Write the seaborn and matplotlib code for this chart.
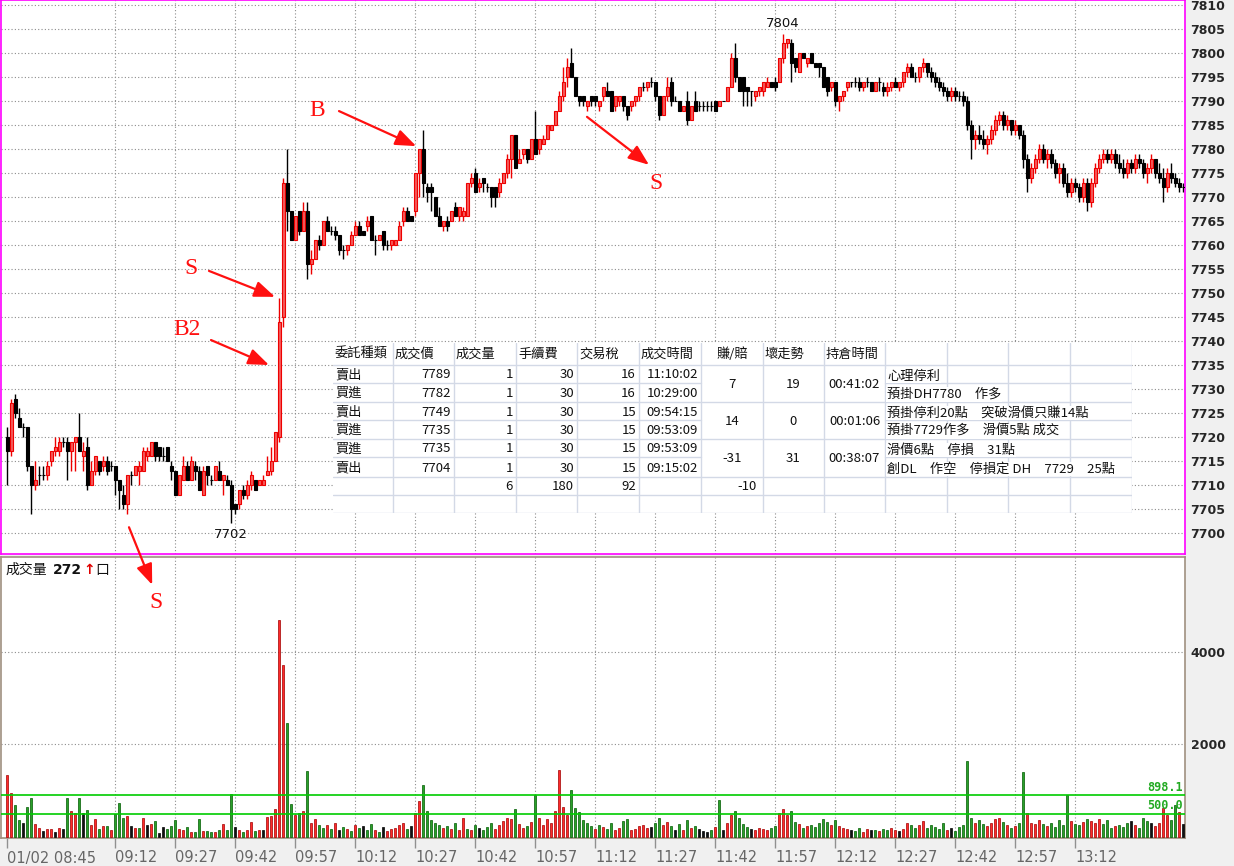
import numpy as np
import pandas as pd
import seaborn as sns
import matplotlib.pyplot as plt
from matplotlib.colors import to_hex

# 1-minute bars from 01/02 08:45
opens = [7720, 7717, 7728, 7724, 7722, 7722, 7714, 7710, 7712, 7712, 7712, 7715, 7717, 7717, 7719, 7719, 7717, 7719, 7720, 7716,
         7718, 7710, 7713, 7715, 7714, 7715, 7714, 7714, 7711, 7708, 7706, 7712, 7712, 7713, 7713, 7716, 7716, 7719, 7718, 7716,
         7718, 7714, 7713, 7708, 7711, 7714, 7711, 7714, 7713, 7708, 7714, 7711, 7711, 7713, 7711, 7711, 7710, 7706, 7706, 7709,
         7708, 7710, 7711, 7710, 7710, 7712, 7713, 7715, 7720, 7745, 7773, 7767, 7761, 7767, 7763, 7767, 7756, 7757, 7761, 7760,
         7765, 7763, 7763, 7762, 7759, 7759, 7760, 7762, 7764, 7763, 7764, 7766, 7761, 7761, 7763, 7760, 7760, 7760, 7761, 7765,
         7767, 7766, 7767, 7775, 7780, 7772, 7772, 7770, 7766, 7764, 7765, 7765, 7768, 7766, 7766, 7766, 7773, 7775, 7772, 7774,
         7772, 7772, 7772, 7771, 7773, 7775, 7778, 7783, 7777, 7779, 7780, 7778, 7782, 7780, 7781, 7782, 7784, 7785, 7788, 7791,
         7795, 7798, 7795, 7791, 7791, 7789, 7791, 7791, 7789, 7791, 7792, 7792, 7789, 7790, 7791, 7789, 7789, 7790, 7791, 7793,
         7793, 7794, 7794, 7791, 7787, 7791, 7794, 7790, 7790, 7788, 7790, 7786, 7790, 7789, 7789, 7789, 7789, 7790, 7789, 7790,
         7790, 7793, 7799, 7795, 7795, 7793, 7792, 7791, 7792, 7792, 7793, 7794, 7794, 7794, 7799, 7802, 7802, 7799, 7796, 7800,
         7798, 7800, 7798, 7798, 7797, 7795, 7793, 7794, 7790, 7791, 7793, 7794, 7794, 7794, 7793, 7794, 7794, 7792, 7794, 7793,
         7792, 7793, 7794, 7793, 7794, 7796, 7797, 7795, 7795, 7797, 7798, 7796, 7795, 7794, 7793, 7792, 7791, 7792, 7791, 7791,
         7790, 7785, 7782, 7783, 7782, 7781, 7782, 7784, 7786, 7787, 7785, 7786, 7784, 7785, 7783, 7778, 7774, 7776, 7778, 7780,
         7778, 7779, 7777, 7775, 7776, 7773, 7771, 7773, 7772, 7770, 7773, 7769, 7773, 7776, 7778, 7779, 7778, 7779, 7777, 7776,
         7775, 7777, 7776, 7778, 7777, 7775, 7776, 7778, 7775, 7774, 7772, 7775, 7774, 7773, 7772]
highs = [7722, 7728, 7729, 7726, 7723, 7722, 7714, 7715, 7714, 7714, 7715, 7717, 7720, 7720, 7720, 7720, 7719, 7720, 7725, 7719,
         7720, 7715, 7716, 7715, 7716, 7716, 7715, 7714, 7711, 7710, 7712, 7713, 7714, 7715, 7718, 7718, 7719, 7719, 7718, 7718,
         7718, 7715, 7713, 7712, 7716, 7715, 7716, 7715, 7714, 7714, 7714, 7712, 7714, 7715, 7712, 7712, 7711, 7706, 7709, 7710,
         7711, 7713, 7711, 7711, 7712, 7716, 7718, 7721, 7749, 7774, 7780, 7767, 7766, 7767, 7769, 7769, 7759, 7761, 7762, 7765,
         7766, 7764, 7764, 7762, 7760, 7760, 7763, 7765, 7765, 7763, 7766, 7766, 7762, 7762, 7763, 7761, 7761, 7761, 7765, 7768,
         7768, 7766, 7775, 7780, 7784, 7773, 7773, 7770, 7768, 7765, 7766, 7767, 7769, 7768, 7768, 7773, 7775, 7776, 7774, 7774,
         7773, 7772, 7772, 7774, 7775, 7779, 7783, 7783, 7780, 7780, 7780, 7782, 7788, 7782, 7783, 7785, 7785, 7788, 7792, 7797,
         7799, 7801, 7795, 7791, 7791, 7790, 7791, 7791, 7790, 7793, 7794, 7792, 7791, 7791, 7791, 7789, 7790, 7791, 7793, 7794,
         7794, 7795, 7794, 7791, 7791, 7795, 7795, 7791, 7790, 7789, 7792, 7789, 7792, 7790, 7790, 7790, 7790, 7790, 7790, 7790,
         7793, 7800, 7802, 7795, 7795, 7793, 7792, 7792, 7793, 7794, 7795, 7794, 7795, 7799, 7804, 7803, 7803, 7799, 7800, 7800,
         7799, 7800, 7798, 7798, 7797, 7795, 7794, 7794, 7791, 7792, 7794, 7794, 7795, 7795, 7794, 7795, 7794, 7794, 7795, 7794,
         7794, 7794, 7795, 7794, 7796, 7798, 7798, 7796, 7797, 7799, 7798, 7797, 7796, 7795, 7794, 7793, 7793, 7793, 7792, 7792,
         7791, 7786, 7784, 7785, 7784, 7783, 7785, 7787, 7788, 7788, 7787, 7786, 7786, 7785, 7784, 7779, 7777, 7779, 7781, 7781,
         7780, 7780, 7778, 7777, 7777, 7775, 7774, 7774, 7773, 7774, 7774, 7774, 7777, 7779, 7780, 7780, 7780, 7780, 7779, 7778,
         7778, 7778, 7779, 7779, 7778, 7777, 7779, 7778, 7777, 7776, 7776, 7777, 7775, 7774, 7773]
lows = [7710, 7716, 7724, 7722, 7720, 7713, 7704, 7709, 7710, 7711, 7711, 7714, 7716, 7716, 7718, 7711, 7713, 7713, 7717, 7713,
        7709, 7710, 7712, 7712, 7713, 7712, 7713, 7708, 7705, 7705, 7704, 7710, 7712, 7710, 7713, 7715, 7716, 7715, 7715, 7715,
        7715, 7711, 7708, 7708, 7711, 7711, 7711, 7711, 7709, 7708, 7710, 7710, 7711, 7711, 7708, 7710, 7702, 7704, 7705, 7707,
        7707, 7709, 7709, 7710, 7710, 7712, 7712, 7715, 7719, 7743, 7763, 7761, 7761, 7762, 7763, 7753, 7754, 7757, 7759, 7760,
        7763, 7762, 7761, 7758, 7757, 7758, 7760, 7762, 7762, 7762, 7763, 7761, 7758, 7761, 7759, 7759, 7759, 7760, 7761, 7764,
        7765, 7765, 7766, 7770, 7770, 7769, 7767, 7766, 7764, 7763, 7763, 7765, 7766, 7765, 7765, 7766, 7772, 7771, 7771, 7771,
        7771, 7768, 7768, 7770, 7773, 7774, 7774, 7776, 7777, 7778, 7777, 7778, 7779, 7779, 7781, 7782, 7784, 7785, 7788, 7790,
        7793, 7795, 7791, 7789, 7789, 7788, 7789, 7789, 7788, 7790, 7791, 7788, 7788, 7789, 7788, 7786, 7788, 7789, 7790, 7792,
        7792, 7793, 7790, 7786, 7787, 7790, 7789, 7790, 7788, 7788, 7785, 7786, 7788, 7788, 7788, 7788, 7788, 7788, 7789, 7790,
        7790, 7793, 7794, 7792, 7789, 7789, 7789, 7790, 7791, 7791, 7793, 7793, 7792, 7794, 7798, 7801, 7794, 7796, 7796, 7799,
        7797, 7798, 7797, 7795, 7793, 7791, 7792, 7789, 7788, 7790, 7792, 7793, 7793, 7792, 7792, 7793, 7792, 7792, 7792, 7791,
        7791, 7792, 7793, 7792, 7793, 7795, 7795, 7794, 7794, 7796, 7795, 7794, 7793, 7792, 7791, 7790, 7790, 7790, 7790, 7789,
        7784, 7778, 7780, 7781, 7780, 7779, 7781, 7783, 7785, 7784, 7784, 7783, 7783, 7782, 7776, 7771, 7773, 7775, 7777, 7777,
        7776, 7776, 7774, 7773, 7772, 7770, 7770, 7771, 7769, 7769, 7767, 7768, 7772, 7775, 7777, 7777, 7777, 7776, 7775, 7774,
        7774, 7775, 7775, 7776, 7774, 7773, 7775, 7774, 7773, 7769, 7771, 7773, 7772, 7771, 7771]
closes = [7717, 7727, 7725, 7722, 7722, 7714, 7710, 7711, 7712, 7712, 7714, 7717, 7718, 7719, 7719, 7717, 7719, 7720, 7717, 7717,
          7710, 7713, 7716, 7713, 7715, 7713, 7714, 7711, 7709, 7706, 7712, 7712, 7714, 7714, 7717, 7717, 7719, 7716, 7716, 7716,
          7715, 7713, 7708, 7712, 7714, 7711, 7715, 7713, 7709, 7713, 7712, 7711, 7714, 7711, 7712, 7710, 7705, 7705, 7709, 7708,
          7710, 7712, 7709, 7711, 7711, 7713, 7715, 7721, 7744, 7773, 7767, 7761, 7766, 7763, 7767, 7756, 7757, 7761, 7760, 7765,
          7763, 7763, 7762, 7759, 7759, 7760, 7762, 7764, 7762, 7762, 7765, 7761, 7761, 7762, 7760, 7760, 7761, 7761, 7764, 7767,
          7765, 7765, 7775, 7780, 7773, 7771, 7771, 7766, 7764, 7765, 7764, 7767, 7766, 7768, 7767, 7773, 7774, 7771, 7773, 7773,
          7772, 7770, 7770, 7773, 7775, 7778, 7783, 7776, 7778, 7780, 7778, 7782, 7779, 7782, 7782, 7785, 7785, 7788, 7791, 7794,
          7797, 7795, 7791, 7790, 7790, 7790, 7790, 7790, 7790, 7793, 7791, 7788, 7791, 7791, 7789, 7787, 7790, 7791, 7793, 7793,
          7794, 7794, 7791, 7787, 7791, 7793, 7790, 7790, 7788, 7789, 7786, 7789, 7788, 7789, 7789, 7789, 7789, 7788, 7790, 7790,
          7793, 7799, 7795, 7792, 7792, 7792, 7792, 7792, 7793, 7794, 7794, 7793, 7793, 7799, 7802, 7803, 7798, 7797, 7800, 7799,
          7799, 7798, 7797, 7797, 7793, 7792, 7794, 7790, 7791, 7792, 7794, 7794, 7794, 7793, 7794, 7794, 7792, 7794, 7794, 7792,
          7793, 7794, 7793, 7794, 7796, 7797, 7795, 7795, 7797, 7798, 7796, 7795, 7794, 7793, 7792, 7791, 7792, 7791, 7791, 7790,
          7785, 7782, 7783, 7782, 7781, 7782, 7784, 7786, 7787, 7785, 7786, 7784, 7785, 7783, 7778, 7774, 7776, 7778, 7780, 7778,
          7779, 7777, 7775, 7776, 7773, 7771, 7773, 7772, 7770, 7773, 7769, 7773, 7776, 7778, 7779, 7778, 7779, 7777, 7776, 7775,
          7777, 7776, 7778, 7777, 7775, 7776, 7778, 7775, 7774, 7772, 7775, 7774, 7773, 7772, 7772]

volumes = [1345, 949, 690, 374, 302, 647, 841, 280, 194, 137, 165, 173, 108, 194, 173, 841, 561, 518, 841, 518,
           582, 259, 388, 173, 237, 237, 158, 496, 733, 410, 453, 237, 194, 194, 410, 259, 280, 345, 86, 216,
           173, 237, 367, 173, 151, 216, 108, 108, 388, 129, 129, 108, 108, 151, 280, 151, 928, 216, 151, 108,
           151, 324, 129, 151, 151, 431, 460, 604, 4681, 3710, 2459, 712, 475, 518, 561, 1424, 302, 388, 259,
           200, 260, 180, 300, 150, 220, 170, 140, 260, 190, 230, 160, 280, 150, 120, 210, 140, 170, 190, 260,
           310, 180, 240, 520, 780, 1120, 560, 360, 300, 250, 200, 230, 180, 310, 160, 420, 180, 150, 260, 190,
           160, 220, 300, 180, 260, 350, 420, 380, 600, 280, 200, 240, 330, 900, 420, 260, 380, 300, 560, 1450,
           650, 480, 1010, 620, 540, 360, 300, 240, 180, 260, 210, 170, 300, 160, 200, 340, 380, 150, 180, 230,
           260, 190, 220, 300, 420, 260, 330, 240, 160, 280, 150, 360, 200, 240, 180, 140, 120, 160, 210, 800,
           160, 300, 480, 560, 420, 280, 220, 180, 160, 200, 180, 150, 200, 240, 520, 600, 480, 560, 320, 280,
           200, 240, 260, 220, 300, 380, 320, 260, 360, 240, 200, 180, 160, 140, 200, 120, 180, 150, 160, 130,
           170, 150, 200, 160, 140, 180, 300, 260, 200, 260, 340, 200, 260, 220, 180, 300, 160, 200, 140, 220,
           260, 1650, 420, 300, 360, 280, 240, 300, 380, 420, 320, 260, 200, 240, 300, 1400, 520, 300, 280, 360,
           280, 240, 300, 220, 360, 260, 900, 340, 280, 260, 320, 380, 340, 300, 400, 280, 360, 200, 240, 260,
           220, 300, 340, 260, 200, 420, 340, 300, 240, 300, 620, 480, 360, 700, 540, 280]
# r = up tick, g = down tick, k = unchanged (10 bars per chunk)
vol_dir = list("rrggkggrrk" "rrkrkgrrgk" "grrgrgrggg" "rkrgrkrgkk" "gggrrgrggr"
               "ggrgrggkrg" "rrgrkrrrrr" "ggrgrgrrgg" "rgrkgrgrgk" "ggrgkrrrrr"
               "gkrrgggggr" "grgrrgrgkg" "ggrrrrrgrr" "grgrrrrrrr" "rggggggrgr"
               "ggrrggrrrr" "rkggrrgkgr" "grgkkkgrgk" "rrggggkrrr" "rggrrrggrg"
               "rgggggrgrr" "rkggrrkgrg" "grrkrrggrr" "gggggrkggg" "ggrggrrrrg"
               "rgrggrrrrg" "rgggggrggr" "grrrgggrgg" "gkrgggkrrr" "rggrk")

time_ticks = [0, 27, 42, 57, 72, 87, 102, 117, 132, 147, 162, 177, 192, 207, 222, 237, 252, 267]
time_labels = ['01/02 08:45', '09:12', '09:27', '09:42', '09:57', '10:12', '10:27', '10:42', '10:57',
               '11:12', '11:27', '11:42', '11:57', '12:12', '12:27', '12:42', '12:57', '13:12']
price_ticks = list(range(7700, 7815, 5))
vol_ticks = [2000, 4000]
vol_lines = [898.1, 500.0]
last_vol = 272

# trade log table
headers = ['委託種類', '成交價', '成交量', '手續費', '交易稅', '成交時間', '賺/賠', '壞走勢', '持倉時間']
sides = ['賣出', '買進', '賣出', '買進', '買進', '賣出']
fill_prices = [7789, 7782, 7749, 7735, 7735, 7704]
qtys = [1, 1, 1, 1, 1, 1]
fees = [30, 30, 30, 30, 30, 30]
taxes = [16, 16, 15, 15, 15, 15]
fill_times = ['11:10:02', '10:29:00', '09:54:15', '09:53:09', '09:53:09', '09:15:02']
pnl = [7, 14, -31]
adverse = [19, 0, 31]
hold_times = ['00:41:02', '00:01:06', '00:38:07']
notes = ['心理停利', '預掛DH7780　作多', '預掛停利20點　突破滑價只賺14點', '預掛7729作多　滑價5點 成交',
         '滑價6點　停損　31點', '創DL　作空　停損定 DH　7729　25點']

# hand-drawn signal arrows: label, text pos, arrow tail, arrow head (bar index, price)
signals = [('B', (77.5, 7788.1), (83, 7787.9), (102.3, 7780.6)),
           ('S', (162.3, 7772.9), (145, 7786.7), (160.5, 7776.7)),
           ('S', (46, 7755.2), (50.5, 7754.6), (67, 7749.2)),
           ('B2', (45, 7742.3), (51, 7740.2), (65.5, 7735.0)),
           ('S', (37.3, 7685.6), (30.5, 7701.2), (36.3, 7689.2))]

sns.set_style("white")
plt.rcParams['font.family'] = ['DejaVu Sans', 'Noto Sans CJK TC']
CJK = ['Noto Sans CJK TC', 'DejaVu Sans']

W, H = 1234, 866
fig = plt.figure(figsize=(W / 100, H / 100), dpi=100, facecolor='#f0f0f0')

lens = [len(opens), len(highs), len(lows), len(closes), len(volumes), len(vol_dir)]
n = min(lens)
if len(set(lens)) > 1:
    fig.text(0.5, 0.5, str(lens), fontsize=30, color='blue')


def px_axes(l, t, r, b):
    return fig.add_axes([l / W, 1 - b / H, (r - l) / W, (b - t) / H])


ax_p = px_axes(1, 0, 1185, 554)
ax_v = px_axes(1, 557, 1185, 838)
ax_p.set_zorder(3)

x = np.arange(n)
o = np.array(opens[:n], float)
c = np.array(closes[:n], float)
up = c > o
face = np.where(up, '#f45a5a', '#000000')
edge = np.where(up, '#ee0000', '#000000')

grid_kw = dict(color='#8c8c8c', lw=0.8, linestyle=(0, (1, 2)), zorder=0)
XLIM = (-1.5, 294.5)

# --- price panel ---
ax_p.set_facecolor('white')
for p in price_ticks:
    ax_p.axhline(p, **grid_kw)
for t in time_ticks[1:]:
    ax_p.axvline(t, **grid_kw)
ax_p.vlines(x, lows[:n], highs[:n], colors=edge, lw=1, zorder=2)
ax_p.bar(x, np.abs(c - o), bottom=np.minimum(o, c), width=0.75, color=face,
         edgecolor=edge, linewidth=0.8, zorder=3)

lo_i = int(np.argmin(lows[:n]))
hi_i = int(np.argmax(highs[:n]))
ax_p.annotate(f"{lows[lo_i]}", (lo_i, lows[lo_i]), xytext=(0, -3), textcoords='offset points',
              ha='center', va='top', fontsize=9.5, color='#111111')
ax_p.annotate(f"{highs[hi_i]}", (hi_i, highs[hi_i]), xytext=(0, 3), textcoords='offset points',
              ha='center', va='bottom', fontsize=9.5, color='#111111')

ax_p.set_xlim(*XLIM)
ax_p.set_ylim(7810 - (554 - 5) / 4.8, 7810 + 5 / 4.8)
ax_p.yaxis.tick_right()
ax_p.set_yticks(price_ticks)
ax_p.set_xticks([])
ax_p.tick_params(axis='y', right=True, length=0, labelsize=9, pad=4)
for lab in ax_p.get_yticklabels():
    lab.set_fontweight('bold')
for s in ax_p.spines.values():
    s.set_color('#ff00ff')
    s.set_linewidth(1.2)

for lab, txy, tail, head in signals:
    ax_p.annotate('', xy=head, xytext=tail, annotation_clip=False,
                  arrowprops=dict(arrowstyle='-|>,head_length=0.9,head_width=0.35',
                                  color='#ff1010', lw=1.6, mutation_scale=14, shrinkA=0, shrinkB=0))
    ax_p.text(txy[0], txy[1], lab, color='#ff1010', fontsize=17, family='Liberation Serif',
              ha='center', va='center', clip_on=False, zorder=6)

# --- trade table overlay ---
tb = px_axes(333, 343, 1132, 513)
tb.set_zorder(4)
tb.set_xlim(0, 799)
tb.set_ylim(170, 0)
tb.axis('off')
tb.add_patch(plt.Rectangle((0, 0), 799, 170, color='white', zorder=0))
col_x = [0, 60, 121, 183, 244, 306, 368, 430, 491, 552, 614, 675, 737, 799]
row_y = [0, 22, 40, 59, 77, 96, 114, 134, 152, 170]
line_c = '#d3d9e6'
for cx in col_x[1:]:
    tb.plot([cx, cx], [0, 170], color=line_c, lw=1, zorder=1)
for ry in row_y[1:]:
    tb.plot([0, 368], [ry, ry], color=line_c, lw=1, zorder=1)
    tb.plot([552, 799], [ry, ry], color=line_c, lw=1, zorder=1)
for ry in [22, 59, 96, 134, 152, 170]:
    tb.plot([368, 552], [ry, ry], color=line_c, lw=1, zorder=1)

tkw = dict(fontsize=9.5, family=CJK, va='center', color='#111111', zorder=3)
for j, h in enumerate(headers):
    if h == '賺/賠':
        tb.text((col_x[j] + col_x[j + 1]) / 2, 11.5, h, ha='center', **tkw)
    else:
        tb.text(col_x[j] + 2, 11.5, h, ha='left', **tkw)
for k in range(len(sides)):
    yc = (row_y[k + 1] + row_y[k + 2]) / 2 + 1
    tb.text(col_x[0] + 2, yc, sides[k], ha='left', **tkw)
    for j, v in zip(range(1, 6), [fill_prices[k], qtys[k], fees[k], taxes[k], fill_times[k]]):
        tb.text(col_x[j + 1] - 3, yc, str(v), ha='right', **tkw)
    tb.text(col_x[9] + 2, yc + 1, notes[k], ha='left',
            bbox=dict(facecolor='white', edgecolor='none', pad=0.6), **tkw)
for p in range(len(pnl)):
    yc = (row_y[1 + 2 * p] + row_y[3 + 2 * p]) / 2 + 1
    for j, v in zip([6, 7, 8], [pnl[p], adverse[p], hold_times[p]]):
        tb.text((col_x[j] + col_x[j + 1]) / 2, yc, str(v), ha='center', **tkw)
yt = (row_y[7] + row_y[8]) / 2 + 1
tb.text(col_x[3] - 3, yt, str(sum(qtys)), ha='right', **tkw)
tb.text(col_x[4] - 3, yt, str(sum(fees)), ha='right', **tkw)
tb.text(col_x[5] - 3, yt, str(sum(taxes)), ha='right', **tkw)
tb.text(col_x[7] - 6, yt, str(sum(pnl)), ha='right', **tkw)

# --- volume panel ---
ax_v.set_facecolor('white')
for v in vol_ticks:
    ax_v.axhline(v, **grid_kw)
for t in time_ticks[1:]:
    ax_v.axvline(t, **grid_kw)
vdf = pd.DataFrame({'t': x, 'vol': volumes[:n], 'dir': vol_dir[:n]})
pal = {'r': '#ff2a2a', 'g': '#2aa02a', 'k': '#111111'}
sns.barplot(data=vdf, x='t', y='vol', hue='dir', palette=pal, native_scale=True, dodge=False,
            width=0.72, saturation=1, errorbar=None, legend=False, ax=ax_v, zorder=3)
dark = {'#ff2a2a': '#a00000', '#2aa02a': '#005a00', '#111111': '#000000'}
for bar in ax_v.patches:
    fc = to_hex(bar.get_facecolor())
    bar.set_edgecolor(dark.get(fc, '#000000'))
    bar.set_linewidth(0.5)
for lv in vol_lines:
    ax_v.axhline(lv, color='#00cc00', lw=1.2, zorder=4)
    ax_v.text(0.998, lv + 40, f"{lv:.1f}", transform=ax_v.get_yaxis_transform(), ha='right', va='bottom',
              color='#22aa22', fontsize=8.5, family='DejaVu Sans Mono', weight='bold', zorder=5)

ax_v.set_xlim(*XLIM)
ax_v.set_ylim(-20, (837 - 557) / 92.7 * 2000)
ax_v.yaxis.tick_right()
ax_v.set_yticks(vol_ticks)
ax_v.set_xticks(time_ticks)
ax_v.set_xticklabels(time_labels, ha='left')
ax_v.set_xlabel('')
ax_v.set_ylabel('')
ax_v.tick_params(axis='y', right=True, length=0, labelsize=9, pad=4)
for lab in ax_v.get_yticklabels():
    lab.set_fontweight('bold')
ax_v.tick_params(axis='x', bottom=True, length=7, width=1, color='#909090', labelsize=10.5,
                 labelcolor='#666666', pad=2)
for s in ax_v.spines.values():
    s.set_color('#a09080')
    s.set_linewidth(1.2)

t1 = ax_v.text(0.004, 0.955, '成交量', transform=ax_v.transAxes, fontsize=10, family=CJK,
               va='center', ha='left', color='#111111')
t2 = ax_v.annotate(str(last_vol), xy=(1, 0.5), xycoords=t1, xytext=(4, 0), textcoords='offset points',
                   va='center', ha='left', fontsize=10, weight='bold', color='#111111')
t3 = ax_v.annotate('↑', xy=(1, 0.5), xycoords=t2, xytext=(1, 0), textcoords='offset points',
                   va='center', ha='left', fontsize=10, weight='bold', color='#e00000')
ax_v.annotate('口', xy=(1, 0.5), xycoords=t3, xytext=(0, 0), textcoords='offset points',
              va='center', ha='left', fontsize=10, family=CJK, color='#111111')

fig.savefig('out.png', dpi=100, facecolor=fig.get_facecolor())
